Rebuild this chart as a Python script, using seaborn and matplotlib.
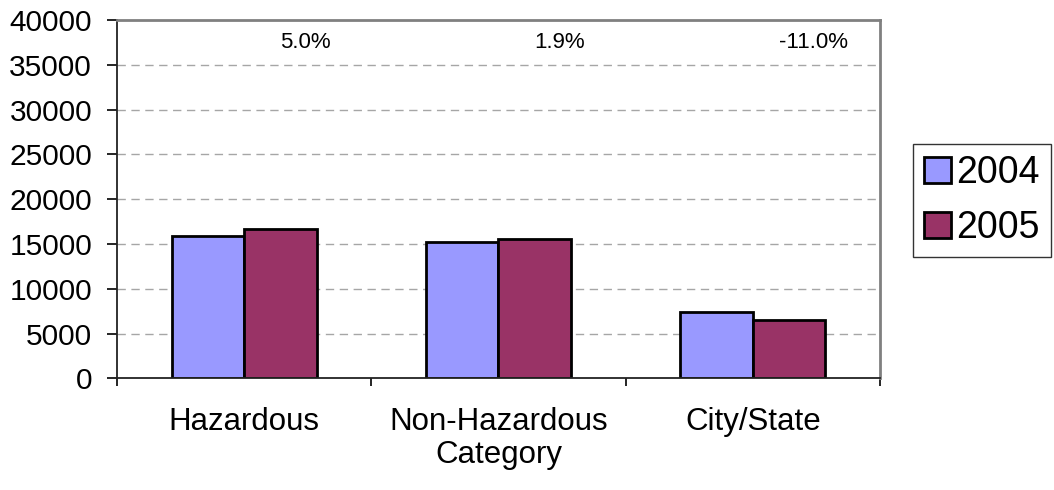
import numpy as np
import pandas as pd
import seaborn as sns
import matplotlib.pyplot as plt
from matplotlib.ticker import FixedLocator

# Data ............................................................................................
categories = ["Hazardous", "Non-Hazardous", "City/State"]
years = ["2004", "2005"]
values_2004 = [15900, 15200, 7370]
values_2005 = [16700, 15500, 6560]
pct_labels = ["5.0%", "1.9%", "-11.0%"]

df = pd.DataFrame({
    "Category": categories * 2,
    "Year": [years[0]] * 3 + [years[1]] * 3,
    "Value": values_2004 + values_2005,
})

# Plot ............................................................................................
sns.set_style("white")
plt.rcParams["font.family"] = ["Liberation Sans", "DejaVu Sans"]
plt.rcParams["text.color"] = "black"
plt.rcParams["axes.labelcolor"] = "black"
plt.rcParams["xtick.color"] = "black"
plt.rcParams["ytick.color"] = "black"

fig = plt.figure(figsize = (10.54, 4.9), dpi = 100)
ax = fig.add_axes([117 / 1054, 1 - 378.3 / 490, (880 - 117) / 1054, (378.3 - 20) / 490])

sns.barplot(data = df, x = "Category", y = "Value", hue = "Year",
            palette = ["#9999FF", "#993366"], width = 0.57, gap = 0,
            edgecolor = "black", linewidth = 2.0, saturation = 1, ax = ax, legend = True)

ax.set_xlim(-0.5, 2.5)
ax.set_ylim(0, 40000)
ax.set_yticks(np.arange(0, 40001, 5000))
ax.set_yticklabels([str(v) for v in range(0, 40001, 5000)])
ax.tick_params(axis = "y", labelsize = 21.5, length = 7, width = 1.2, pad = 11, left = True)
ax.tick_params(axis = "x", which = "major", labelsize = 22.5, length = 0, pad = 21)
ax.xaxis.set_minor_locator(FixedLocator([-0.5, 0.5, 1.5, 2.5]))
ax.tick_params(axis = "x", which = "minor", length = 6, width = 1.2, bottom = True, direction = "out")

# dashed grid lines
for v in range(5000, 40000, 5000):
    ax.axhline(v, color = "#a6a6a6", linestyle = (0, (6, 4)), linewidth = 1.0, zorder = 0)

for s in ["top", "right"]:
    ax.spines[s].set_color("#808080")
    ax.spines[s].set_linewidth(2)
for s in ["left", "bottom"]:
    ax.spines[s].set_color("#222222")
    ax.spines[s].set_linewidth(1.3)

ax.set_ylabel("")
ax.set_xlabel("Category", fontsize = 22.5, labelpad = 2)

# percentage change labels
for i, lab in enumerate(pct_labels):
    ax.text(i + 0.24, 37500, lab, ha = "center", va = "center", fontsize = 16)

# legend
handles, labels = ax.get_legend_handles_labels()
ax.get_legend().remove()
leg = fig.legend(handles, labels, loc = "upper left", bbox_to_anchor = (913 / 1054, 1 - 144 / 490),
                 fontsize = 27, frameon = True, fancybox = False, handlelength = 0.7, handleheight = 0.7,
                 handletextpad = 0.15, labelspacing = 0.5, borderpad = 0.3, borderaxespad = 0)
leg.get_frame().set_edgecolor("black")
leg.get_frame().set_linewidth(1)

plt.savefig("out.png", dpi = 100)
